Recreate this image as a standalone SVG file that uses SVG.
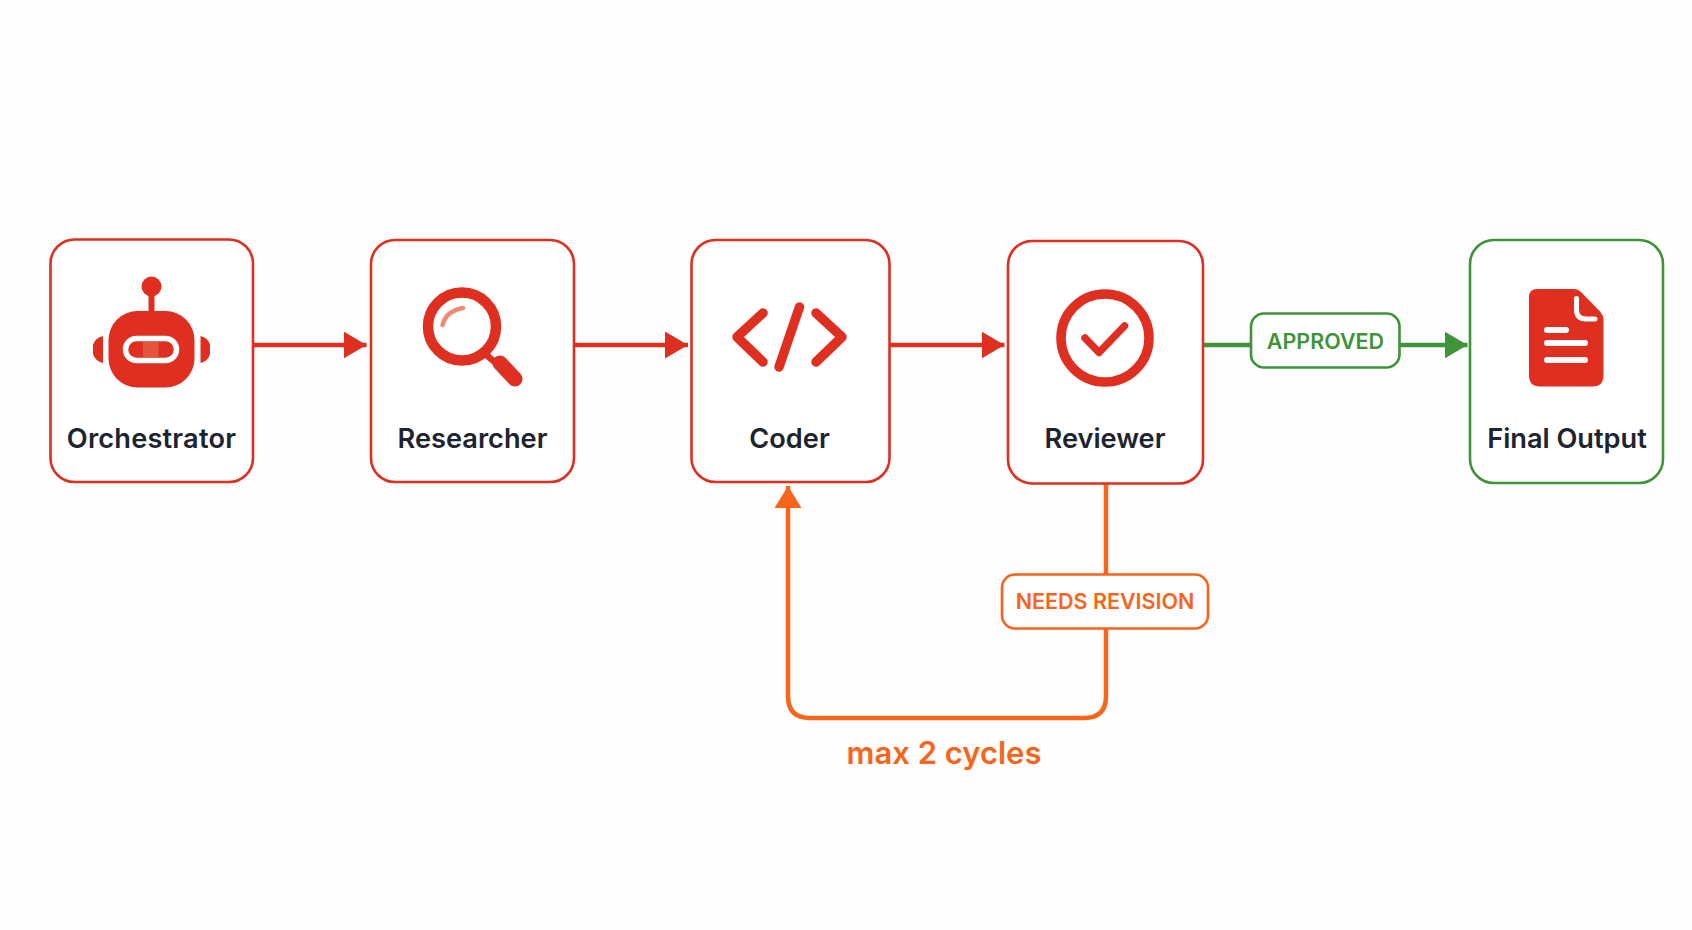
<svg xmlns="http://www.w3.org/2000/svg" width="1692" height="930" viewBox="0 0 1692 930">
<style>
.box{fill:#fff;stroke-width:2.6}
.red{stroke:#de2f20}
.grn{stroke:#3f9338}
.lbl{font-family:Inter,"Liberation Sans",sans-serif;font-weight:600;font-size:27.2px;fill:#1c2430;text-anchor:middle}
.tag{font-family:Inter,"Liberation Sans",sans-serif;font-weight:600;font-size:21.5px;text-anchor:middle}
.line{fill:none;stroke-width:4.5}
.ic{fill:none;stroke:#de2f20;stroke-linecap:round;stroke-linejoin:round}
</style>
<defs>
<marker id="ar" markerUnits="userSpaceOnUse" markerWidth="24" markerHeight="28" refX="23" refY="14" orient="auto"><path d="M0 0.500L23 14L0 27.500Z" fill="#de2f20"/></marker>
<marker id="ag" markerUnits="userSpaceOnUse" markerWidth="24" markerHeight="28" refX="23" refY="14" orient="auto"><path d="M0 0.500L23 14L0 27.500Z" fill="#3f9338"/></marker>
<marker id="ao" markerUnits="userSpaceOnUse" markerWidth="24" markerHeight="28" refX="22" refY="14" orient="auto"><path d="M0 0.500L22 14L0 27.500Z" fill="#f8641a"/></marker>
</defs>
<rect width="1692" height="930" fill="#fefefe"/>
<g id="connectors">
<path class="line" stroke="#de2f20" d="M253 345H366.500" marker-end="url(#ar)"/>
<path class="line" stroke="#de2f20" d="M575 345H688" marker-end="url(#ar)"/>
<path class="line" stroke="#de2f20" d="M890 345H1004.500" marker-end="url(#ar)"/>
<path class="line" stroke="#3f9338" d="M1204 345H1251"/>
<path class="line" stroke="#3f9338" d="M1400 345H1467.500" marker-end="url(#ag)"/>
<path class="line" stroke="#f8641a" d="M1106 484V696Q1106 718 1084 718H810Q788 718 788 696V486" marker-end="url(#ao)"/>
</g>
<g id="orchestrator">
<rect class="box red" x="50.500" y="239.500" width="202.500" height="242.500" rx="24"/>
<circle cx="151.500" cy="286.500" r="10" fill="#de2f20"/>
<rect x="148.500" y="290" width="6" height="24" fill="#de2f20"/>
<rect x="108.500" y="311" width="86" height="76.500" rx="29" fill="#de2f20"/>
<path d="M103 336V363Q95 361 93 354V345Q95 338 103 336Z M200.500 336V363Q208.500 361 210 354V345Q208.500 338 200.500 336Z" fill="#de2f20"/>
<rect x="125.500" y="338.500" width="51" height="22" rx="11" fill="#de2f20" stroke="#fff" stroke-width="5.500"/>
<rect x="143" y="342" width="15.500" height="15" fill="#e4553f"/>
<text class="lbl" x="151.500" y="447.500" style="letter-spacing:.2px">Orchestrator</text>
</g>
<g id="researcher">
<rect class="box red" x="371" y="240" width="203" height="242" rx="24"/>
<circle cx="462" cy="326.500" r="34" fill="none" stroke="#de2f20" stroke-width="10.500"/>
<path d="M484 353L497 364" stroke="#de2f20" stroke-width="6.500" fill="none"/>
<path d="M500 363L515 379" stroke="#de2f20" stroke-width="15" stroke-linecap="round" fill="none"/>
<path d="M442.500 325Q446 311 463 308" stroke="#f08a70" stroke-width="4.500" stroke-linecap="round" fill="none"/>
<text class="lbl" x="472.500" y="447.500">Researcher</text>
</g>
<g id="coder">
<rect class="box red" x="691.500" y="240" width="198" height="242" rx="24"/>
<path class="ic" stroke-width="9.500" d="M763 313L737 337L763 362M816 313L842 337L816 362"/>
<path class="ic" stroke-width="9.500" d="M799.500 307L779 367"/>
<text class="lbl" x="789.500" y="447.500">Coder</text>
</g>
<g id="reviewer">
<rect class="box red" x="1008" y="241" width="195" height="242.500" rx="24"/>
<circle cx="1105" cy="338" r="44" fill="none" stroke="#de2f20" stroke-width="9.500"/>
<path class="ic" stroke-width="7.500" d="M1085 338L1099 352.500L1124.500 326"/>
<text class="lbl" x="1105" y="447.500">Reviewer</text>
</g>
<g id="approved">
<rect class="box grn" x="1251" y="313.500" width="148.500" height="54" rx="13"/>
<text class="tag" x="1325.500" y="348.500" fill="#3f9338">APPROVED</text>
</g>
<g id="final-output">
<rect class="box grn" x="1470" y="240" width="193" height="243" rx="24"/>
<path d="M1537 289H1574Q1578 289 1581 292L1600 311.500Q1603.500 315.500 1603.500 319.500V375.500Q1603.500 386.500 1592.500 386.500H1540Q1529 386.500 1529 375.500V297Q1529 289 1537 289Z" fill="#de2f20"/>
<path d="M1576.500 298.500V309.500Q1576.500 319 1586 319H1595" fill="none" stroke="#fff" stroke-width="5" stroke-linecap="round"/>
<path d="M1547 330H1566M1547 343H1585M1547 360H1585" stroke="#fff" stroke-width="6" stroke-linecap="round" fill="none"/>
<text class="lbl" x="1567" y="447.500">Final Output</text>
</g>
<g id="needs-revision">
<rect class="box" stroke="#f8641a" x="1002" y="574.500" width="206" height="54" rx="13"/>
<text class="tag" x="1105" y="609" fill="#f8641a">NEEDS REVISION</text>
</g>
<text id="max-cycles" x="944" y="763.500" font-family="Inter,'Liberation Sans',sans-serif" font-weight="600" font-size="31px" text-anchor="middle" fill="#f8641a">max 2 cycles</text>
</svg>
